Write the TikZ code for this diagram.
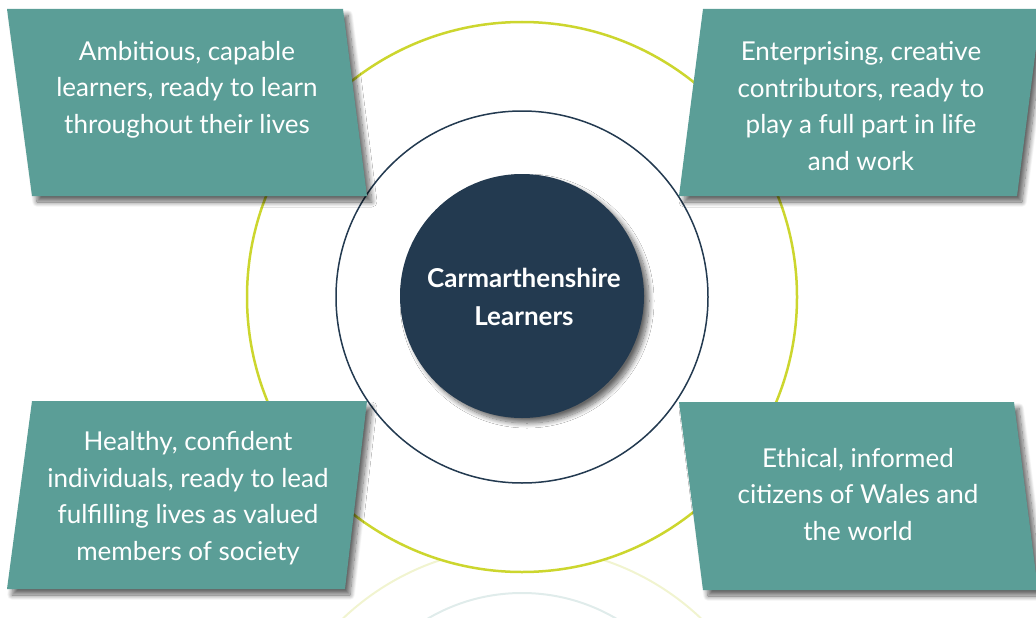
\documentclass[tikz,border=0pt]{standalone}
\usepackage{fontspec}
\setmainfont{Lato}
\usetikzlibrary{shadows.blur}
\definecolor{boxteal}{HTML}{5B9E97}
\definecolor{corenavy}{HTML}{233A50}
\definecolor{ringyellow}{HTML}{CCD62E}
\definecolor{fadeyellow}{HTML}{F1F4D0}
\definecolor{fadeblue}{HTML}{E0ECEB}
\begin{document}
\begin{tikzpicture}[x=1pt,y=-1pt]
       \tikzstyle{ring}=[circle, inner sep=0pt]
       \tikzstyle{outcome}=[fill=boxteal, blur shadow={shadow xshift=5pt, shadow yshift=-6pt, shadow blur radius=5pt, shadow blur steps=12, shadow opacity=60}]
       \tikzstyle{outtext}=[anchor=base, align=center, text=white, font=\fontsize{26}{36.5}\selectfont]
       \useasboundingbox (0,0) rectangle (1036,618);
       % faded reflection under the rings
       \begin{scope}
        \clip (0,548) rectangle (1036,618);
        \draw[fadeyellow, line width=2pt] (522,807) circle[radius=260];
        \draw[fadeblue, line width=2pt] (522,779) circle[radius=186];
       \end{scope}
       \node[ring, fill=white, draw=ringyellow, line width=2.5pt, minimum size=550pt] (outer) at (522,297) {};
       \node[ring, draw=corenavy, line width=1.5pt, minimum size=372pt] (middle) at (522,297) {};
       % the four outcome boxes
       \fill[outcome] (7,9) -- (343,9) -- (367,196) -- (32,196) -- cycle;
       \fill[outcome] (703,9) -- (1041,9) -- (1017,196) -- (679,196) -- cycle;
       \fill[outcome] (32,401) -- (367,401) -- (345,589) -- (7,589) -- cycle;
       \fill[outcome] (679,402) -- (1014,402) -- (1038,590) -- (703,590) -- cycle;
       \node[outtext] (ambitious) at (187,133) {Ambitious, capable\\learners, ready to learn\\throughout their lives};
       \node[outtext] (enterprising) at (861,170) {Enterprising, creative\\contributors, ready to\\play a full part in life\\and work};
       \node[outtext] (healthy) at (188,560) {Healthy, confident\\individuals, ready to lead\\fulfilling lives as valued\\members of society};
       \node[outtext] (ethical) at (858,540) {Ethical, informed\\citizens of Wales and\\the world};
       % centre
       \node[ring, fill=corenavy, minimum size=244pt, blur shadow={shadow xshift=5pt, shadow yshift=-5pt, shadow blur radius=5pt, shadow blur steps=12, shadow opacity=60}] (core) at (522,296) {};
       \node[anchor=base, align=center, text=white, font=\fontsize{26}{38}\selectfont\bfseries] (coretext) at (524,325) {Carmarthenshire\\Learners};
      \end{tikzpicture}
\end{document}
